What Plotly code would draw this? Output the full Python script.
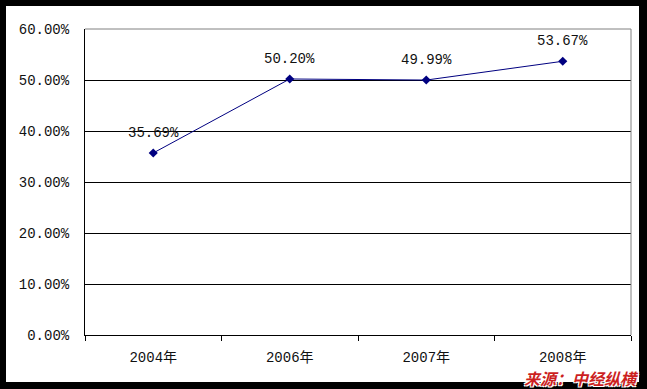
import plotly.graph_objects as go

categories = ["2004年", "2006年", "2007年", "2008年"]
values = [35.69, 50.20, 49.99, 53.67]
value_labels = ["35.69%", "50.20%", "49.99%", "53.67%"]
y_ticks = [0, 10, 20, 30, 40, 50, 60]
y_tick_labels = ["0.00%", "10.00%", "20.00%", "30.00%", "40.00%", "50.00%", "60.00%"]
source_text = "来源：中经纵横"

W, H = 647, 389
L, R, T, B = 85, 16, 29, 54
pw, ph = W - L - R, H - T - B

def px_x(p):
    return (p - L) / pw

def px_y(p):
    return (H - B - p) / ph

FONT = "Liberation Mono, Noto Sans CJK SC, monospace"

fig = go.Figure()
fig.add_trace(go.Scatter(
    x=categories, y=values, mode="lines+markers",
    line=dict(color="#000080", width=1),
    marker=dict(symbol="diamond", size=7, color="#000080"),
    hoverinfo="skip", showlegend=False,
))

annotations = []
for c, v, t in zip(categories, values, value_labels):
    annotations.append(dict(x=c, y=v, xref="x", yref="y", text=t, showarrow=False,
                            yshift=20, font=dict(family=FONT, size=14, color="#111111")))
annotations.append(dict(
    x=px_x(641), y=px_y(378), xref="paper", yref="paper", text="<b><i>" + source_text + "</i></b>",
    showarrow=False, xanchor="right", yanchor="middle",
    font=dict(family="Noto Sans CJK SC", size=16, color="#cc1f1f",
              shadow="1px 1px 0 #fff, -1px -1px 0 #fff, 1px -1px 0 #fff, -1px 1px 0 #fff"),
))

shapes = [
    dict(type="rect", xref="paper", yref="paper", x0=px_x(6), x1=px_x(639), y0=px_y(382), y1=px_y(6),
         fillcolor="white", line=dict(width=0), layer="below"),
    dict(type="line", xref="paper", yref="paper", x0=0, x1=1, y0=1, y1=1,
         line=dict(color="#808080", width=1), layer="above"),
    dict(type="line", xref="paper", yref="paper", x0=1, x1=1, y0=0, y1=1,
         line=dict(color="#808080", width=1), layer="above"),
]

fig.update_layout(
    width=W, height=H,
    margin=dict(l=L, r=R, t=T, b=B, pad=0),
    paper_bgcolor="black", plot_bgcolor="white",
    annotations=annotations, shapes=shapes,
    xaxis=dict(type="category", tickson="boundaries", ticks="outside", ticklen=5,
               tickcolor="black", showline=True, linecolor="black", linewidth=1,
               showgrid=False, range=[-0.5, 3.5], ticklabelstandoff=9,
               tickfont=dict(family=FONT, size=14, color="#111111")),
    yaxis=dict(range=[0, 60], tickvals=y_ticks, ticktext=y_tick_labels,
               showline=True, linecolor="black", linewidth=1,
               showgrid=True, gridcolor="black", gridwidth=1, zeroline=False,
               ticks="", ticklabelstandoff=12,
               tickfont=dict(family=FONT, size=14, color="#111111")),
)

fig.write_html("out.html", config={"displayModeBar": False},
               post_script="document.body.style.margin='0';document.body.style.overflow='hidden';")
